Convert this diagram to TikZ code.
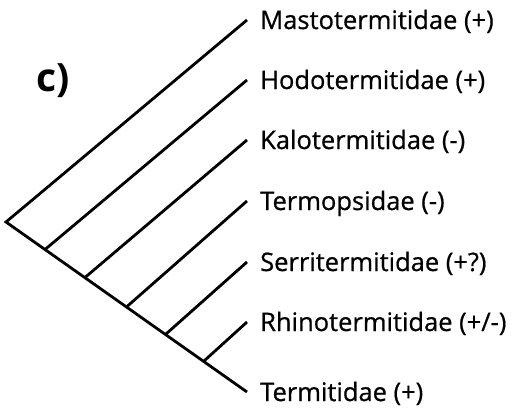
\documentclass[tikz,border=0pt]{standalone}
\usepackage{fontspec}
\setmainfont{Open Sans}
\newfontfamily\taxfont{Open Sans}[FakeBold=0.7]
\begin{document}
\begin{tikzpicture}[x=1pt,y=-1pt,
  branch/.style={line width=2.8pt, line cap=butt, line join=miter},
  taxon/.style={anchor=base west, inner sep=0pt, font=\taxfont\fontsize{25.5}{28}\selectfont},
  panel/.style={anchor=base west, inner sep=0pt, font=\bfseries\fontsize{39}{42}\selectfont}]
  \useasboundingbox (0,0) rectangle (520,413);
  % root and internal nodes along the lower branch
  \coordinate (root) at (6,222);
  \coordinate (n1) at (45,249.5);
  \coordinate (n2) at (85,277.5);
  \coordinate (n3) at (127,306.5);
  \coordinate (n4) at (166,334);
  \coordinate (n5) at (204,361);
  % tips
  \coordinate (t1) at (247,20);
  \coordinate (t2) at (247,80);
  \coordinate (t3) at (247,140);
  \coordinate (t4) at (247,201);
  \coordinate (t5) at (247,262);
  \coordinate (t6) at (247,322);
  \coordinate (t7) at (247,392);
  % tree
  \draw[branch] (t1) -- (root) -- (t7);
  \draw[branch] (n1) -- (t2);
  \draw[branch] (n2) -- (t3);
  \draw[branch] (n3) -- (t4);
  \draw[branch] (n4) -- (t5);
  \draw[branch] (n5) -- (t6);
  % labels
  \node[taxon] (l1) at ([xshift=13pt,yshift=-9pt]t1) {Mastotermitidae (+)};
  \node[taxon] (l2) at ([xshift=13pt,yshift=-9pt]t2) {Hodotermitidae (+)};
  \node[taxon] (l3) at ([xshift=13pt,yshift=-9pt]t3) {Kalotermitidae (-)};
  \node[taxon] (l4) at ([xshift=13pt,yshift=-9pt]t4) {Termopsidae (-)};
  \node[taxon] (l5) at ([xshift=13pt,yshift=-9pt]t5) {Serritermitidae (+?)};
  \node[taxon] (l6) at ([xshift=13pt,yshift=-9pt]t6) {Rhinotermitidae (+/-)};
  \node[taxon] (l7) at ([xshift=13pt,yshift=-9pt]t7) {Termitidae (+)};
  \node[panel] (c) at (36,91) {c)};
\end{tikzpicture}
\end{document}
